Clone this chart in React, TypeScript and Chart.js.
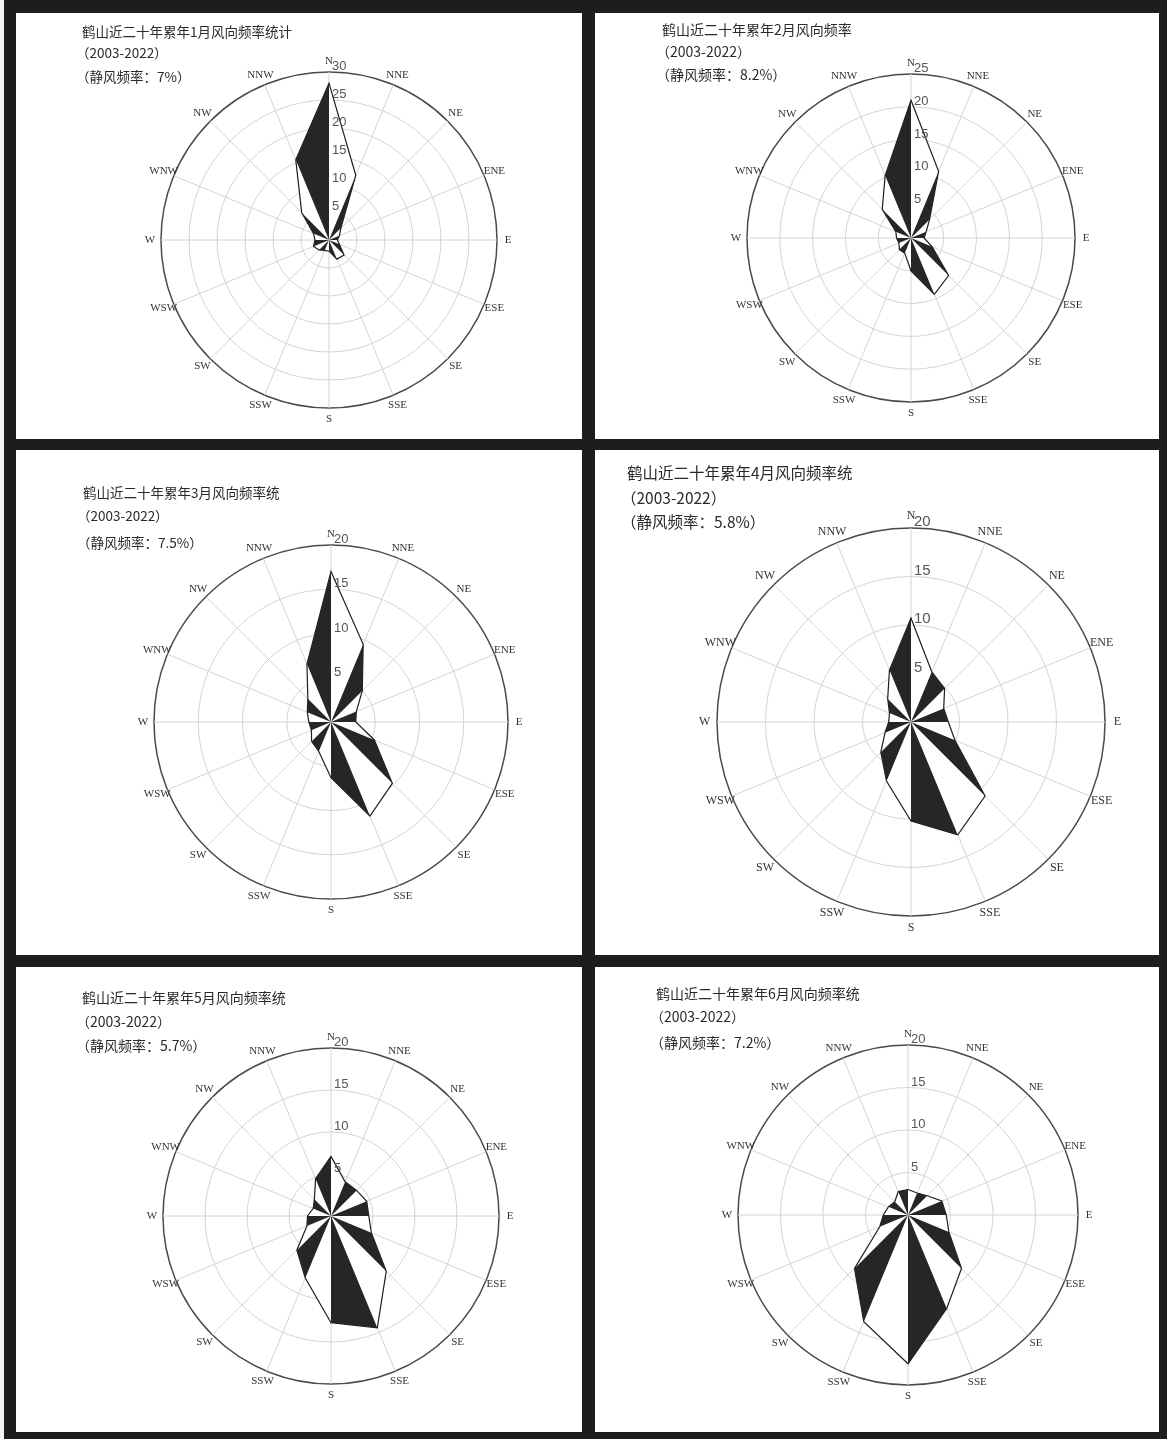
import React, { useEffect, useRef } from 'react';
import { Chart, registerables } from 'chart.js';

Chart.register(...registerables);

// 16 compass directions, clockwise from north
const directions = ['N', 'NNE', 'NE', 'ENE', 'E', 'ESE', 'SE', 'SSE', 'S', 'SSW', 'SW', 'WSW', 'W', 'WNW', 'NW', 'NNW'];

// Wind direction frequency (%) per month, 2003-2022
const janFreq = [28, 12.5, 3, 2, 1.5, 2, 3.8, 3.7, 2, 2, 2.5, 3, 2.5, 3, 6.9, 15.5];
const febFreq = [21, 11, 4, 2.5, 2, 3.5, 8.1, 9.3, 5, 2.5, 2.5, 2, 2.2, 2.5, 6.2, 10.3];
const marFreq = [17, 9.5, 5, 3.1, 2.8, 5.3, 9.8, 11.5, 6.3, 3.6, 3.1, 2.4, 2.5, 2.9, 3.7, 7.1];
const aprFreq = [10.7, 5.6, 4.9, 3.65, 3.85, 4.9, 10.8, 12.6, 10.2, 6.6, 4.4, 2.9, 2.3, 2.4, 3.4, 5.8];
const mayFreq = [7.1, 4.4, 4.3, 4.6, 4.5, 5.2, 9.3, 14.4, 12.7, 8.0, 5.75, 3.1, 2.8, 2.3, 2.8, 4.8];
const junFreq = [3.0, 2.8, 3.2, 4.3, 4.5, 5.2, 8.9, 11.9, 17.5, 13.6, 8.9, 3.6, 2.9, 2.5, 2.2, 3.0];

const monthSeries = [janFreq, febFreq, marFreq, aprFreq, mayFreq, junFreq];

const monthTitles = [
  '鹤山近二十年累年1月风向频率统计',
  '鹤山近二十年累年2月风向频率',
  '鹤山近二十年累年3月风向频率统',
  '鹤山近二十年累年4月风向频率统',
  '鹤山近二十年累年5月风向频率统',
  '鹤山近二十年累年6月风向频率统',
];
const periodLabel = '（2003-2022）';
const calmRates = ['7%', '8.2%', '7.5%', '5.8%', '5.7%', '7.2%'];
const axisMax = [30, 25, 20, 20, 20, 20];
const tickStep = 5;

// Page layout of the six panels (page pixels)
const panelLayout = [
  { left: 16, top: 13, width: 566, height: 426, cx: 329, cy: 240, r: 168, tx: 82, ty: [31, 52, 76], fs: 13.5, k: 1 },
  { left: 595, top: 13, width: 564, height: 426, cx: 911, cy: 238, r: 164, tx: 662, ty: [29, 51, 74], fs: 14, k: 1 },
  { left: 16, top: 450, width: 566, height: 505, cx: 331, cy: 722, r: 177, tx: 83, ty: [492, 515, 542], fs: 13.5, k: 1 },
  { left: 595, top: 450, width: 564, height: 505, cx: 911, cy: 722, r: 194, tx: 627, ty: [472, 497, 521], fs: 15.5, k: 1.12 },
  { left: 16, top: 967, width: 566, height: 465, cx: 331, cy: 1216, r: 168, tx: 82, ty: [997, 1021, 1045], fs: 14, k: 1 },
  { left: 595, top: 967, width: 564, height: 465, cx: 908, cy: 1215, r: 170, tx: 656, ty: [993, 1016, 1042], fs: 14, k: 1 },
];

// Draws the ring values along the north spoke and the compass names outside the rim
const roseText = {
  id: 'roseText',
  afterDatasetsDraw(chart: any) {
    const scale = chart.scales.r;
    const ctx = chart.ctx;
    const k = chart.options.plugins.roseText?.k ?? 1;
    ctx.save();
    ctx.font = `${Math.round(13 * k)}px "Liberation Sans"`;
    ctx.fillStyle = '#555';
    ctx.textAlign = 'left';
    ctx.textBaseline = 'alphabetic';
    scale.ticks.forEach((t: any) => {
      if (t.value <= 0) return;
      const d = scale.getDistanceFromCenterForValue(t.value);
      ctx.fillText(t.label ?? String(t.value), scale.xCenter + 3, scale.yCenter - d - 2);
    });
    ctx.font = `${Math.round(11 * k)}px "Liberation Serif"`;
    ctx.fillStyle = '#333';
    ctx.textAlign = 'center';
    ctx.textBaseline = 'middle';
    chart.data.labels.forEach((lab: string, i: number) => {
      const p = scale.getPointPosition(i, scale.drawingArea + 11 * k);
      ctx.fillText(lab, p.x, p.y);
    });
    ctx.restore();
  },
};

function RosePanel({ idx }: { idx: number }) {
  const canvasRef = useRef<HTMLCanvasElement | null>(null);
  const L = panelLayout[idx];

  useEffect(() => {
    const values = monthSeries[idx];
    const max = axisMax[idx];
    const datasets: any[] = [
      {
        data: values,
        fill: 'origin',
        backgroundColor: '#ffffff',
        borderColor: '#1e1e1e',
        borderWidth: 1.2,
        pointRadius: 0,
        order: 1,
      },
    ];
    // alternate sectors are filled dark
    for (let s = 1; s < directions.length; s += 2) {
      const next = (s + 1) % directions.length;
      datasets.push({
        data: values.map((v, i) => (i === s || i === next ? v : 0)),
        fill: 'origin',
        backgroundColor: '#262626',
        borderWidth: 0,
        pointRadius: 0,
        order: 0,
      });
    }
    const padding = {
      left: L.cx - L.r - L.left,
      right: L.left + L.width - (L.cx + L.r),
      top: L.cy - L.r - L.top,
      bottom: L.top + L.height - (L.cy + L.r),
    };
    const chart = new Chart(canvasRef.current as HTMLCanvasElement, {
      type: 'radar',
      data: { labels: directions, datasets },
      plugins: [roseText],
      options: {
        animation: false,
        responsive: false,
        events: [],
        layout: { padding },
        elements: { line: { tension: 0 }, point: { radius: 0 } },
        plugins: {
          legend: { display: false },
          tooltip: { enabled: false },
          roseText: { k: L.k },
        } as any,
        scales: {
          r: {
            min: 0,
            max,
            beginAtZero: true,
            ticks: { display: false, stepSize: tickStep },
            pointLabels: { display: false },
            angleLines: { color: '#d4d4d4', lineWidth: 1 },
            grid: {
              circular: true,
              color: (c: any) => (c.tick && c.tick.value === max ? '#4a4a4a' : '#d4d4d4'),
              lineWidth: (c: any) => (c.tick && c.tick.value === max ? 1.5 : 1),
            },
          },
        },
      } as any,
    });
    return () => chart.destroy();
  }, [idx]);

  const titleLines = [monthTitles[idx], periodLabel, `（静风频率：${calmRates[idx]}）`];
  return (
    <div
      style={{
        position: 'absolute',
        left: L.left,
        top: L.top,
        width: L.width,
        height: L.height,
        background: '#ffffff',
        overflow: 'hidden',
      }}
    >
      <canvas
        ref={canvasRef}
        width={L.width}
        height={L.height}
        style={{ position: 'absolute', left: 0, top: 0 }}
      />
      {titleLines.map((t, i) => (
        <div
          key={i}
          style={{
            position: 'absolute',
            left: L.tx - L.left - (i === 0 ? 0 : 6),
            top: L.ty[i] - L.top - 10,
            height: 20,
            lineHeight: '20px',
            fontSize: L.fs,
            fontFamily: '"Noto Sans CJK SC", "Noto Sans", sans-serif',
            color: '#2a2a2a',
            whiteSpace: 'nowrap',
          }}
        >
          {t}
        </div>
      ))}
    </div>
  );
}

export default function App() {
  return (
    <div style={{ position: 'absolute', left: 0, top: 0, width: 1167, height: 1439, background: '#f4f4f4' }}>
      <div style={{ position: 'absolute', left: 4, top: 0, width: 1163, height: 1439, background: '#1d1d1d' }} />
      {panelLayout.map((_, i) => (
        <RosePanel key={i} idx={i} />
      ))}
    </div>
  );
}
